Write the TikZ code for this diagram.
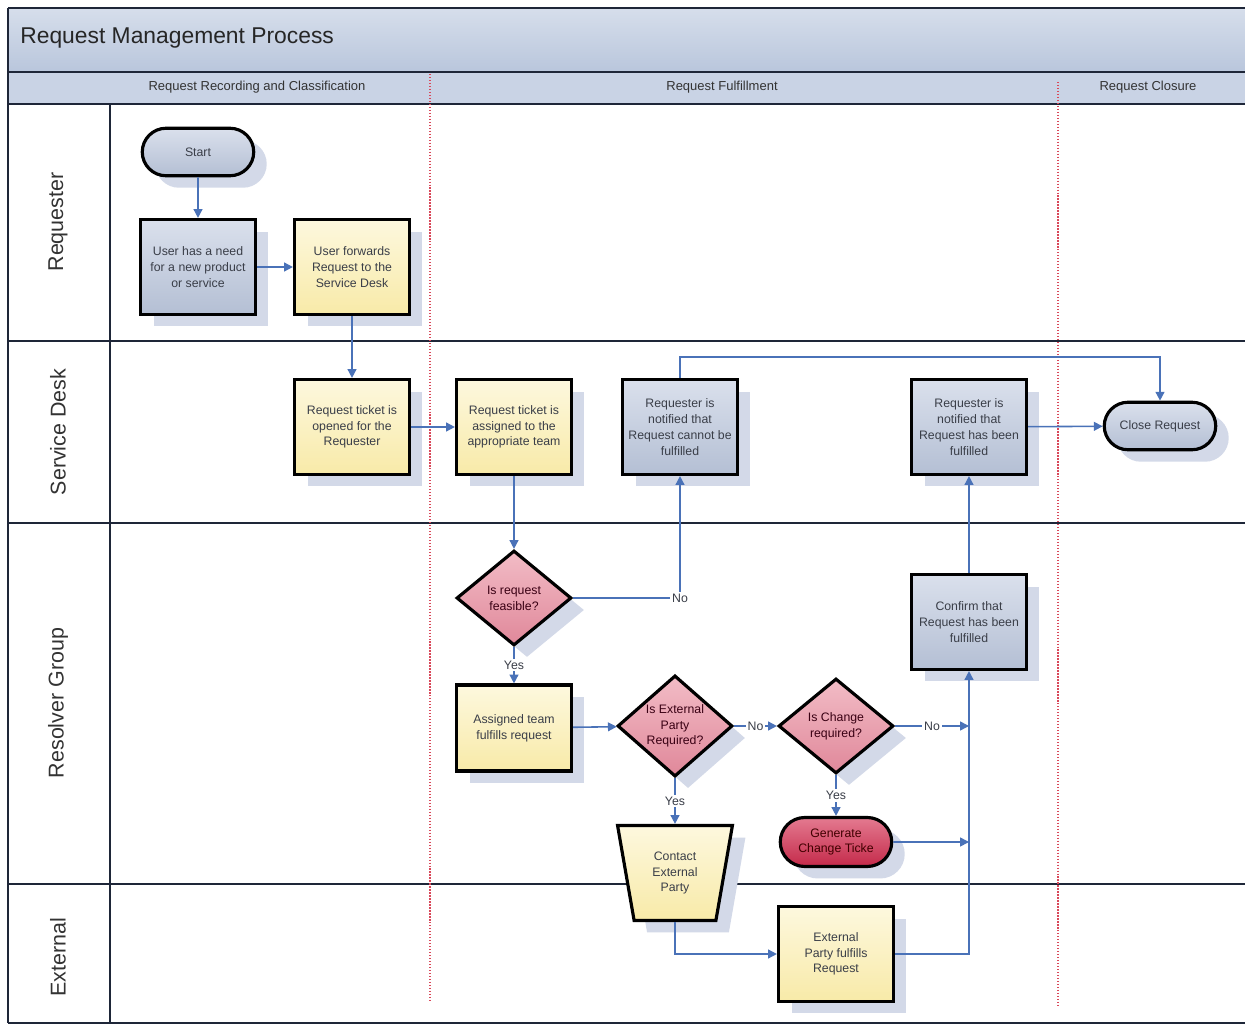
\documentclass[tikz,border=0pt]{standalone}
\usepackage{fontspec}
\setmainfont{Liberation Sans}
\usetikzlibrary{shapes.geometric,shapes.misc,arrows.meta,shadows,calc}
\definecolor{framec}{HTML}{1E2638}
\definecolor{connc}{HTML}{4A72B8}
\definecolor{bluebot}{HTML}{B4BFD4}
\definecolor{bluetop}{HTML}{DAE0EC}
\definecolor{yelbot}{HTML}{F8EAA8}
\definecolor{yeltop}{HTML}{FDF8DE}
\definecolor{pinkbot}{HTML}{E0889A}
\definecolor{pinktop}{HTML}{F2BCC6}
\definecolor{redbot}{HTML}{C42A4A}
\definecolor{redtop}{HTML}{E47A90}
\definecolor{shadowc}{HTML}{D3D9E8}
\definecolor{txtc}{HTML}{3A3E48}
\definecolor{titletop}{HTML}{D6DEEB}
\definecolor{titlebot}{HTML}{B9C6DC}
\definecolor{phasec}{HTML}{C9D3E5}
\definecolor{dashred}{HTML}{D9485A}
\begin{document}
\begin{tikzpicture}[x=0.02cm,y=-0.02cm,
  every node/.style={font=\fontsize{7}{9}\selectfont, text=txtc},
  shad/.style={drop shadow={shadow xshift=0.26cm, shadow yshift=-0.24cm, fill=shadowc, opacity=1}},
  basebox/.style={draw=black, line width=1.8pt, align=center, inner sep=1pt, shad},
  bluebox/.style={basebox, rectangle, minimum width=2.3cm, minimum height=1.9cm, top color=bluetop, bottom color=bluebot},
  yelbox/.style={basebox, rectangle, minimum width=2.3cm, minimum height=1.9cm, top color=yeltop, bottom color=yelbot},
  termbox/.style={basebox, rounded rectangle, minimum width=2.3cm, minimum height=0.95cm, top color=bluetop, bottom color=bluebot},
  redterm/.style={basebox, rounded rectangle, minimum width=2.3cm, minimum height=0.98cm, top color=redtop, bottom color=redbot, text=black!75!red},
  decision/.style={basebox, diamond, inner sep=0pt, minimum width=2.3cm, minimum height=1.9cm, top color=pinktop, bottom color=pinkbot, text=black!70!purple},
  trap/.style={basebox, trapezium, shape border rotate=180, trapezium left angle=78, trapezium right angle=78, trapezium stretches=true, minimum width=2.3cm, minimum height=1.9cm, top color=yeltop, bottom color=yelbot},
  conn/.style={draw=connc, line width=0.9pt, -{Triangle[length=5pt,width=5pt]}},
  lbl/.style={fill=white, inner sep=1pt, text=txtc},
  lanelbl/.style={rotate=90, font=\fontsize{12.2}{14}\selectfont, text=black!80},
  phaselbl/.style={font=\fontsize{7.4}{8.5}\selectfont, text=black!80},
  frameline/.style={draw=framec, line width=1.3pt},
  reddash/.style={draw=dashred, line width=0.7pt, densely dotted}
]
\useasboundingbox (0,0) rectangle (1245,1027);
\fill[white] (0,0) rectangle (1245,1027);
% header bands
\fill[top color=titletop, bottom color=titlebot] (8,8) rectangle (1245,72);
\fill[phasec] (8,72) rectangle (1245,104);
\node[anchor=west, font=\fontsize{13}{16}\selectfont, text=black!85, inner sep=0pt] (title) at (20,38) {Request Management Process};
\node[phaselbl] (ph1) at (257,87) {Request Recording and Classification};
\node[phaselbl] (ph2) at (722,87) {Request Fulfillment};
\node[phaselbl] (ph3) at (1148,87) {Request Closure};
% frame and lanes
\draw[frameline] (8,8) -- (1245,8);
\draw[frameline] (8,72) -- (1245,72);
\draw[frameline] (8,104) -- (1245,104);
\draw[frameline] (8,341) -- (1245,341);
\draw[frameline] (8,523) -- (1245,523);
\draw[frameline] (8,884) -- (1245,884);
\draw[frameline] (8,1023) -- (1245,1023);
\draw[frameline] (8,8) -- (8,1023);
\draw[frameline] (110,104) -- (110,1023);
\node[lanelbl] (l1) at (58,222) {Requester};
\node[lanelbl] (l2) at (58,432) {Service Desk};
\node[lanelbl] (l3) at (58,703) {Resolver Group};
\node[lanelbl] (l4) at (58,957) {External};
% phase separators
\draw[reddash] (430,74) -- (430,1000);
\draw[reddash] (1058,82) -- (1058,1005);
% nodes
\node[termbox] (start) at (198,152) {Start};
\node[bluebox] (need) at (198,267) {User has a need\\for a new product\\or service};
\node[yelbox] (fwd) at (352,267) {User forwards\\Request to the\\Service Desk};
\node[yelbox] (open) at (352,427) {Request ticket is\\opened for the\\Requester};
\node[yelbox] (assign) at (514,427) {Request ticket is\\assigned to the\\appropriate team};
\node[bluebox] (cannot) at (680,427) {Requester is\\notified that\\Request cannot be\\fulfilled};
\node[bluebox] (hasbeen) at (969,427) {Requester is\\notified that\\Request has been\\fulfilled};
\node[termbox] (close) at (1160,426) {Close Request};
\node[decision] (feas) at (514,598) {Is request\\feasible?};
\node[yelbox, minimum height=1.72cm] (team) at (514,728) {Assigned team\\fulfills request};
\node[decision] (ext) at (675,726) {Is External\\Party\\Required?};
\node[decision] (chg) at (836,726) {Is Change\\required?};
\node[bluebox] (confirm) at (969,622) {Confirm that\\Request has been\\fulfilled};
\node[redterm] (gen) at (836,842) {Generate\\Change Ticke};
\node[trap] (contact) at (675,873) {Contact\\External\\Party};
\node[yelbox] (extful) at (836,954) {External\\Party fulfills\\Request};
\coordinate (spine) at (969,726);
% connectors
\draw[conn] (start) -- (need);
\draw[conn] (need) -- (fwd);
\draw[conn] (fwd) -- (open);
\draw[conn] (open) -- (assign);
\draw[conn] (assign) -- (feas);
\draw[conn] (feas.east) -| node[pos=0.5, lbl] {No} (cannot.south);
\draw[conn] (cannot.north) -- ++(0,-21) -| (close.north);
\draw[conn] (feas) -- node[lbl] {Yes} (team);
\draw[conn] (team) -- (ext);
\draw[conn] (ext) -- node[lbl] {No} (chg);
\draw[conn] (chg) -- node[lbl] {No} (spine);
\draw[conn] (chg) -- node[lbl] {Yes} (gen);
\draw[conn] (gen) -- (gen -| spine);
\draw[conn] (ext) -- node[lbl] {Yes} (contact);
\draw[conn] (contact.south) |- (extful.west);
\draw[conn] (extful.east) -| (confirm.south);
\draw[conn] (confirm) -- (hasbeen);
\draw[conn] (hasbeen) -- (close);
\end{tikzpicture}
\end{document}
